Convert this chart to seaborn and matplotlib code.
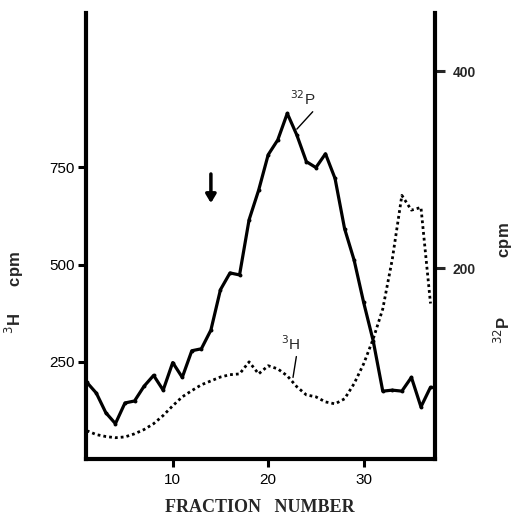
import numpy as np
import pandas as pd
import matplotlib
matplotlib.use("Agg")
import matplotlib.pyplot as plt
import seaborn as sns

# Fraction numbers and counts
fractions = list(range(1, 38))
p32_cpm = [84, 73, 53, 42, 63, 65, 80, 91, 76, 104, 89, 116, 118, 137, 178, 195, 193,
           249, 279, 315, 330, 357, 335, 308, 302, 316, 291, 240, 208, 165, 126,
           75, 76, 75, 89, 59, 79]
h3_cpm = [73, 63, 58, 55, 57, 65, 76, 91, 112, 137, 160, 176, 191, 201, 211, 217, 219,
          250, 219, 240, 232, 214, 186, 165, 160, 147, 142, 155, 194, 245, 309,
          386, 514, 678, 640, 647, 400]

left_ticks = [250, 500, 750]
right_ticks = [200, 400]
x_ticks = [10, 20, 30]

df = pd.DataFrame({"fraction": fractions, "p32": p32_cpm, "h3": h3_cpm})

sns.set_style("white")
plt.rcParams["font.family"] = ["Liberation Sans", "DejaVu Sans"]

fig = plt.figure(figsize=(5.17, 5.17), dpi=100)
ax = fig.add_axes([0.166, 0.112, 0.675, 0.863])
ax2 = ax.twinx()

# 3H on the left axis (dotted)
sns.lineplot(data=df, x="fraction", y="h3", ax=ax, color="black", linewidth=2.0,
             estimator=None)
ax.lines[0].set_dashes((1.0, 1.1))

# 32P on the right axis (solid with small dots)
sns.lineplot(data=df, x="fraction", y="p32", ax=ax2, color="black", linewidth=2.3,
             marker="o", markersize=2.8, markeredgewidth=0, estimator=None)

ax.set_xlim(0.9, 37.45)
ax.set_ylim(0, 1147)
ax2.set_ylim(6, 459)

for a in (ax, ax2):
    a.spines["top"].set_visible(False)
    for s in ("left", "right", "bottom"):
        a.spines[s].set_linewidth(3.0)
        a.spines[s].set_color("black")
ax.spines["right"].set_visible(False)
ax2.spines["left"].set_visible(False)
ax2.spines["bottom"].set_visible(False)

ax.set_xticks(x_ticks)
ax.set_yticks(left_ticks)
ax2.set_yticks(right_ticks)
ax.tick_params(axis="both", direction="out", length=6, width=2.2, labelsize=11,
               pad=2, colors="black")
ax.tick_params(axis="y", left=True, labelleft=True)
ax.tick_params(axis="x", bottom=True, pad=4)
ax2.tick_params(axis="y", direction="out", length=7, width=2.2, right=True,
                labelright=True, labelsize=10, pad=6)
for lbl in ax2.get_yticklabels():
    lbl.set_fontweight("bold")

ax.set_xlabel("FRACTION   NUMBER", fontsize=13, fontweight="bold",
              family=["Liberation Serif", "DejaVu Serif"])
ax.xaxis.set_label_coords(0.499, -0.09)
ax.set_ylabel("$^{3}$H      cpm", fontsize=12, fontweight="bold")
ax.yaxis.set_label_coords(-0.172, 0.374)
ax2.set_ylabel("$^{32}$P             cpm", fontsize=12, fontweight="bold", rotation=90)
ax2.yaxis.set_label_coords(1.163, 0.395)

# Peak labels with leader lines
ax2.annotate("$^{32}$P", xy=(23.0, 341), xytext=(22.3, 362), fontsize=11,
             ha="left", va="bottom",
             arrowprops=dict(arrowstyle="-", color="black", lw=1.0,
                             shrinkA=0, shrinkB=0, relpos=(1.0, 0.0)))
ax.annotate("$^{3}$H", xy=(22.6, 210), xytext=(21.3, 272), fontsize=11,
            ha="left", va="bottom",
            arrowprops=dict(arrowstyle="-", color="black", lw=1.0,
                            shrinkA=0, shrinkB=0, relpos=(0.85, 0.0)))

# Arrow marking fraction 14
ax.annotate("", xy=(14.0, 658), xytext=(14.0, 733),
            arrowprops=dict(arrowstyle="-|>,head_length=0.5,head_width=0.3",
                            color="black", lw=2.5, shrinkA=0, shrinkB=0))

fig.savefig("out.png", dpi=100, facecolor="white")
